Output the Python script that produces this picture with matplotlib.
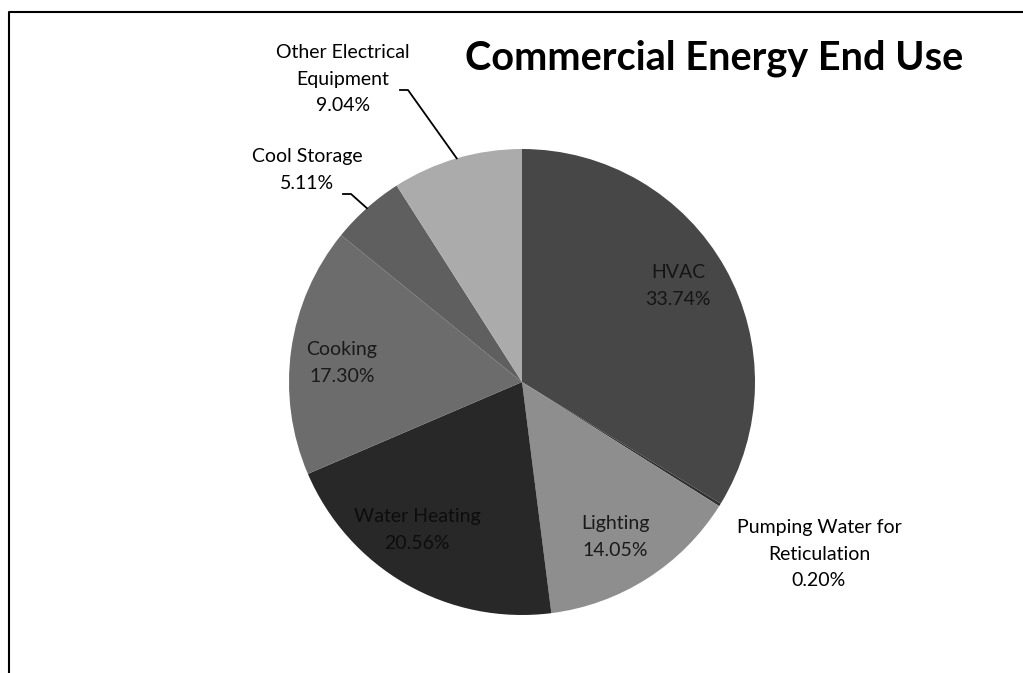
import numpy as np
import matplotlib
matplotlib.use("Agg")
import matplotlib.pyplot as plt
from matplotlib.lines import Line2D

# data
categories = ['HVAC', 'Pumping Water for\nReticulation', 'Lighting', 'Water Heating',
              'Cooking', 'Cool Storage', 'Other Electrical\nEquipment']
shares = [33.74, 0.20, 14.05, 20.56, 17.30, 5.11, 9.04]
colors = ['#474747', '#303030', '#8e8e8e', '#282828', '#6c6c6c', '#5f5f5f', '#ababab']

W, H = 1023, 673
CX, CY, R = 522, 382, 233   # pie centre / radius in pixels

# label centres in pixels (layout only)
label_pos = {
    0: (678, 286, '#151515'),
    1: (819, 554, 'black'),
    2: (615, 537, '#1a1a1a'),
    3: (417, 530, '#0d0d0d'),
    4: (342, 363, '#1a1a1a'),
    5: (307, 170, 'black'),
    6: (343, 79, 'black'),
}

def fx(px): return px / W
def fy(py): return 1 - py / H

plt.rcParams['font.family'] = ['Lato', 'DejaVu Sans']

fig = plt.figure(figsize=(W / 100, H / 100), dpi=100)
ax = fig.add_axes([fx(CX - R), fy(CY + R), 2 * R / W, 2 * R / H])
wedges, _ = ax.pie(shares, colors=colors, startangle=90, counterclock=False,
                   wedgeprops=dict(linewidth=0))
ax.set_xlim(-1, 1)
ax.set_ylim(-1, 1)
ax.set_aspect('auto')
ax.axis('off')

for i, (name, val) in enumerate(zip(categories, shares)):
    px, py, col = label_pos[i]
    fig.text(fx(px), fy(py), f"{name}\n{val:.2f}%", ha='center', va='center',
             fontsize=14, color=col, linespacing=1.7)

# leader lines for the two outside labels at the top
def leader(i, tx, ty):
    w = wedges[i]
    mid = np.deg2rad((w.theta1 + w.theta2) / 2)
    end = ax.transData.transform((np.cos(mid), np.sin(mid)))
    ex, ey = fig.transFigure.inverted().transform(end)
    fig.add_artist(Line2D([fx(tx), fx(tx + 8), ex], [fy(ty), fy(ty), ey],
                          color='black', lw=1.3, transform=fig.transFigure))

leader(6, 400, 90)
leader(5, 343, 194)

fig.text(fx(714), fy(58), "Commercial Energy End Use", ha='center', va='center',
         fontsize=28.5, fontweight='bold')

# frame (only top and left edges visible in the scan)
fig.add_artist(Line2D([fx(9), fx(9), fx(W)], [0, fy(12), fy(12)],
                      color='black', lw=1.5, transform=fig.transFigure))

fig.savefig("out.png", dpi=100)
